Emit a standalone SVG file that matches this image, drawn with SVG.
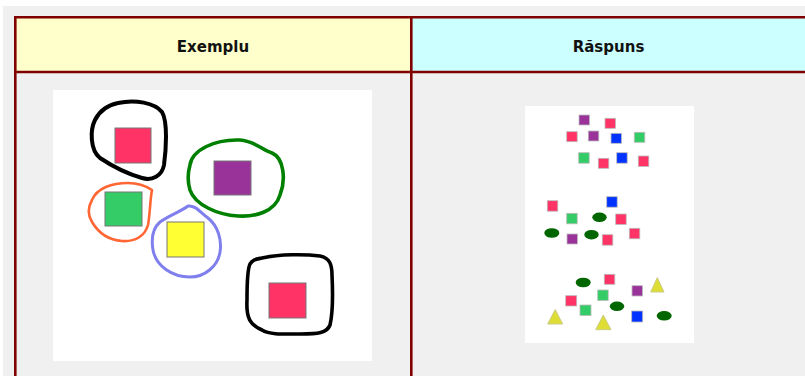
<svg xmlns="http://www.w3.org/2000/svg" width="805" height="376" viewBox="0 0 805 376">
<style>
.hdr{font-family:"DejaVu Sans",Verdana,sans-serif;font-weight:bold;font-size:15px;fill:#111;text-anchor:middle}
.bd{stroke:#800000;stroke-width:2.6;fill:none}
.big{stroke:#777;stroke-width:1}
.sm{stroke:#bbb;stroke-width:0.8}
.r{fill:#ff3366}.p{fill:#993399}.g{fill:#33cc66}.b{fill:#0033ff}.y{fill:#ffff33}
.el{fill:#006600}
.tri{fill:#dddd33;stroke:#cccc88;stroke-width:1}
.loop{fill:none;stroke-linejoin:round;stroke-linecap:round}
</style>
<rect x="0" y="0" width="805" height="376" fill="#ffffff"/>
<rect x="3" y="6" width="802" height="370" fill="#f0f0f0"/>
<g id="table">
<rect x="15.3" y="17.3" width="396" height="54.7" fill="#ffffcc"/>
<rect x="411.3" y="17.3" width="400" height="54.7" fill="#ccffff"/>
<line class="bd" x1="15.3" y1="17.3" x2="805" y2="17.3"/>
<line class="bd" x1="15.3" y1="72" x2="805" y2="72"/>
<line class="bd" x1="15.3" y1="16" x2="15.3" y2="376"/>
<line class="bd" x1="411.3" y1="16" x2="411.3" y2="376"/>
</g>
<g id="header-exemplu"><text class="hdr" x="213" y="52">Exemplu</text></g>
<g id="header-raspuns"><text class="hdr" x="608.5" y="52">Răspuns</text></g>
<g id="example">
<rect x="53" y="90" width="319" height="271" fill="#ffffff"/>
<rect class="big r" x="115" y="128" width="36" height="35"/>
<rect class="big p" x="214" y="161" width="37" height="34"/>
<rect class="big g" x="105" y="192" width="37" height="34"/>
<rect class="big y" x="167" y="222" width="37" height="35"/>
<rect class="big r" x="269" y="283" width="37" height="35"/>
<path class="loop" stroke="#000" stroke-width="4" d="M118,103 C135,99 155,103 162,112 C168,122 166,150 164,165 C162,176 152,181 142,178 C128,174 112,166 100,158 C90,150 90,130 95,120 C100,110 108,105 118,103 Z"/>
<path class="loop" stroke="#008000" stroke-width="3.6" d="M190,165 C192,150 215,139 240,140 C255,141 262,150 272,153 C284,158 286,180 280,195 C275,212 255,217 238,216 C218,215 195,205 190,190 C187,180 188,172 190,165 Z"/>
<path class="loop" stroke="#ff6633" stroke-width="2.6" d="M92,200 C97,188 112,183 128,183 C138,183 146,186 152,190 C150,200 150,215 148,225 C145,236 135,242 122,241 C108,240 98,232 92,222 C87,214 88,207 92,200 Z"/>
<path class="loop" stroke="#7f7fee" stroke-width="3" d="M160,222 C170,215 180,212 188,206 C195,205 200,212 208,218 C218,226 222,240 220,252 C218,266 205,277 190,277 C172,277 156,266 153,250 C151,238 153,228 160,222 Z"/>
<path class="loop" stroke="#000" stroke-width="3.6" d="M262,258 C280,254 305,254 320,256 C330,258 332,265 332,275 C333,295 333,312 330,325 C327,333 318,334 300,334 C285,334 270,335 262,330 C250,325 246,318 247,300 C247,285 247,270 250,264 C253,259 257,259 262,258 Z"/>
</g>
<g id="answer">
<rect x="525" y="106" width="169" height="237" fill="#ffffff"/>
<rect class="sm p" x="579" y="115" width="10.5" height="10"/>
<rect class="sm r" x="605" y="118.3" width="10.5" height="10"/>
<rect class="sm r" x="566.7" y="131.7" width="10.5" height="10"/>
<rect class="sm p" x="588.3" y="131" width="10.5" height="10"/>
<rect class="sm b" x="611" y="133.3" width="10.5" height="10"/>
<rect class="sm g" x="634.3" y="132.3" width="10.5" height="10"/>
<rect class="sm g" x="578.7" y="152.7" width="10.5" height="10.5"/>
<rect class="sm r" x="598.3" y="158.3" width="10.5" height="10"/>
<rect class="sm b" x="616.7" y="152.7" width="10.5" height="10.5"/>
<rect class="sm r" x="638.3" y="156" width="10.5" height="10.5"/>
<rect class="sm r" x="547.3" y="200.7" width="10.5" height="10.5"/>
<rect class="sm b" x="606.7" y="196.7" width="10.5" height="10.5"/>
<rect class="sm g" x="566.7" y="213.3" width="10.5" height="10.5"/>
<ellipse class="el" cx="599.5" cy="217.3" rx="7.2" ry="4.8"/>
<rect class="sm r" x="615.7" y="214" width="10.5" height="10.5"/>
<ellipse class="el" cx="551.8" cy="233" rx="7.5" ry="4.8"/>
<rect class="sm p" x="567" y="234" width="10.5" height="10"/>
<ellipse class="el" cx="591.5" cy="234.7" rx="7.2" ry="4.8"/>
<rect class="sm r" x="602.3" y="234.7" width="10.5" height="10.5"/>
<rect class="sm r" x="629.3" y="228.3" width="10.5" height="10.5"/>
<ellipse class="el" cx="583.2" cy="282.5" rx="7.5" ry="4.8"/>
<rect class="sm r" x="604.3" y="274.3" width="10.5" height="10"/>
<rect class="sm p" x="632" y="285.7" width="10.5" height="10.3"/>
<polygon class="tri" points="657.3,277.5 664,292 650.7,292"/>
<rect class="sm r" x="565.7" y="295.7" width="11" height="10.3"/>
<rect class="sm g" x="597.7" y="290" width="10.5" height="10.5"/>
<ellipse class="el" cx="617" cy="306.3" rx="7.2" ry="4.8"/>
<rect class="sm g" x="580" y="305" width="11" height="10.5"/>
<polygon class="tri" points="555.2,309.5 562.7,324 547.7,324"/>
<polygon class="tri" points="603.3,315 611,329.7 595.7,329.7"/>
<rect class="sm b" x="631.7" y="311" width="11" height="11"/>
<ellipse class="el" cx="664.2" cy="315.8" rx="7.5" ry="4.8"/>
</g>
</svg>
